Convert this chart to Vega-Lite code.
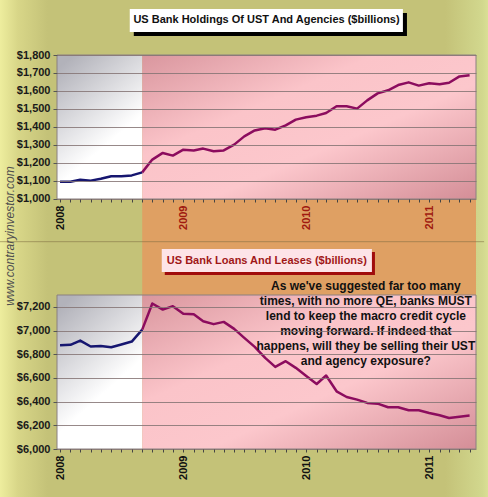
{
  "$schema": "https://vega.github.io/schema/vega-lite/v6.json",
  "width": 419,
  "height": 394,
  "autosize": {"type": "none"},
  "padding": {"left": 57, "top": 55, "right": 12, "bottom": 48},
  "background": "#c6c47a",
  "datasets": {
    "banks": [
      {"date": "2008-01-01", "holdings": 1096, "loans": 6876},
      {"date": "2008-02-01", "holdings": 1096, "loans": 6879},
      {"date": "2008-03-01", "holdings": 1107, "loans": 6915},
      {"date": "2008-04-01", "holdings": 1102, "loans": 6865},
      {"date": "2008-05-01", "holdings": 1113, "loans": 6870},
      {"date": "2008-06-01", "holdings": 1126, "loans": 6859},
      {"date": "2008-07-01", "holdings": 1126, "loans": 6882},
      {"date": "2008-08-01", "holdings": 1131, "loans": 6907},
      {"date": "2008-09-01", "holdings": 1148, "loans": 7008},
      {"date": "2008-10-01", "holdings": 1219, "loans": 7228},
      {"date": "2008-11-01", "holdings": 1256, "loans": 7177},
      {"date": "2008-12-01", "holdings": 1241, "loans": 7206},
      {"date": "2009-01-01", "holdings": 1274, "loans": 7141},
      {"date": "2009-02-01", "holdings": 1270, "loans": 7138},
      {"date": "2009-03-01", "holdings": 1280, "loans": 7079},
      {"date": "2009-04-01", "holdings": 1265, "loans": 7054},
      {"date": "2009-05-01", "holdings": 1270, "loans": 7073},
      {"date": "2009-06-01", "holdings": 1302, "loans": 7014},
      {"date": "2009-07-01", "holdings": 1348, "loans": 6938},
      {"date": "2009-08-01", "holdings": 1381, "loans": 6862},
      {"date": "2009-09-01", "holdings": 1393, "loans": 6769},
      {"date": "2009-10-01", "holdings": 1385, "loans": 6693},
      {"date": "2009-11-01", "holdings": 1409, "loans": 6741},
      {"date": "2009-12-01", "holdings": 1441, "loans": 6685},
      {"date": "2010-01-01", "holdings": 1454, "loans": 6617},
      {"date": "2010-02-01", "holdings": 1463, "loans": 6549},
      {"date": "2010-03-01", "holdings": 1478, "loans": 6620},
      {"date": "2010-04-01", "holdings": 1515, "loans": 6487},
      {"date": "2010-05-01", "holdings": 1515, "loans": 6439},
      {"date": "2010-06-01", "holdings": 1502, "loans": 6417},
      {"date": "2010-07-01", "holdings": 1548, "loans": 6389},
      {"date": "2010-08-01", "holdings": 1587, "loans": 6383},
      {"date": "2010-09-01", "holdings": 1604, "loans": 6352},
      {"date": "2010-10-01", "holdings": 1633, "loans": 6352},
      {"date": "2010-11-01", "holdings": 1648, "loans": 6327},
      {"date": "2010-12-01", "holdings": 1630, "loans": 6327},
      {"date": "2011-01-01", "holdings": 1643, "loans": 6304},
      {"date": "2011-02-01", "holdings": 1637, "loans": 6285},
      {"date": "2011-03-01", "holdings": 1646, "loans": 6262},
      {"date": "2011-04-01", "holdings": 1681, "loans": 6273},
      {"date": "2011-05-01", "holdings": 1687, "loans": 6282}
    ],
    "one": [{}]
  },
  "data": {"name": "banks", "format": {"parse": {"date": "date"}}},
  "layer": [
    {
      "layer": [
        {
          "data": {"name": "one"},
          "mark": {
            "type": "rect",
            "fill": {
              "gradient": "linear", "x1": 0, "y1": 0, "x2": 1, "y2": 0,
              "stops": [
                {"offset": 0, "color": "#f0f0a0"},
                {"offset": 0.04, "color": "#d8d688"},
                {"offset": 0.1, "color": "#c4c278"},
                {"offset": 0.9, "color": "#c4c278"},
                {"offset": 0.975, "color": "#d2d88e"},
                {"offset": 1, "color": "#e4e89c"}
              ]
            }
          },
          "encoding": {
            "x": {"datum": {"year": 2007, "month": 7, "date": 1, "utc": true}, "type": "temporal"},
            "x2": {"datum": {"year": 2011, "month": 7, "date": 15, "utc": true}},
            "y": {"datum": 2105.6},
            "y2": {"datum": -655.6}
          }
        },
        {
          "data": {"name": "one"},
          "mark": {"type": "rect", "fill": "#dfa063"},
          "encoding": {
            "x": {"datum": {"year": 2008, "month": 9, "date": 1, "utc": true}, "type": "temporal"},
            "x2": {"datum": {"year": 2011, "month": 5, "date": 20, "utc": true}},
            "y": {"datum": 466.7},
            "y2": {"datum": 1000}
          }
        },
        {
          "data": {"name": "one"},
          "mark": {"type": "rule", "color": "#7c6a40", "strokeWidth": 1, "opacity": 0.55},
          "encoding": {
            "x": {"datum": {"year": 2007, "month": 7, "date": 1, "utc": true}, "type": "temporal"},
            "x2": {"datum": {"year": 2011, "month": 6, "date": 13, "utc": true}},
            "y": {"datum": 762.8}
          }
        },
        {
          "data": {"name": "one"},
          "mark": {
            "type": "rect",
            "fill": {
              "gradient": "linear", "x1": 0.2, "y1": 0, "x2": 0.7, "y2": 1,
              "stops": [
                {"offset": 0, "color": "#b2b2ba"},
                {"offset": 0.65, "color": "#ffffff"},
                {"offset": 1, "color": "#ffffff"}
              ]
            }
          },
          "encoding": {
            "x": {"datum": {"year": 2007, "month": 12, "date": 23, "utc": true}, "type": "temporal"},
            "x2": {"datum": {"year": 2008, "month": 9, "date": 1, "utc": true}},
            "y": {"datum": 1000},
            "y2": {"datum": 1800}
          }
        },
        {
          "data": {"name": "one"},
          "mark": {
            "type": "rect",
            "fill": {
              "gradient": "linear", "x1": 0, "y1": 0, "x2": 1, "y2": 1,
              "stops": [
                {"offset": 0, "color": "#d9969e"},
                {"offset": 0.35, "color": "#fbc4c9"},
                {"offset": 0.6, "color": "#fcc7cc"},
                {"offset": 1, "color": "#d48e97"}
              ]
            }
          },
          "encoding": {
            "x": {"datum": {"year": 2008, "month": 9, "date": 1, "utc": true}, "type": "temporal"},
            "x2": {"datum": {"year": 2011, "month": 5, "date": 20, "utc": true}},
            "y": {"datum": 1000},
            "y2": {"datum": 1800}
          }
        },
        {
          "data": {"name": "one"},
          "mark": {"type": "rect", "fill": "transparent", "stroke": "#8a8080", "strokeWidth": 1},
          "encoding": {
            "y": {"datum": 1000},
            "y2": {"datum": 1800}
          }
        },
        {
          "transform": [{"filter": {"field": "date", "lte": {"year": 2008, "month": 9, "date": 1, "utc": true}}}],
          "mark": {"type": "line", "color": "#161670", "strokeWidth": 2.5, "strokeJoin": "round"},
          "encoding": {
            "x": {
              "field": "date", "type": "temporal", "title": null,
              "scale": {"type": "utc", "domain": [{"year": 2007, "month": 12, "date": 23, "utc": true}, {"year": 2011, "month": 5, "date": 20, "utc": true}]},
              "axis": {
                "orient": "bottom", "offset": -250, "domain": false, "grid": false,
                "tickCount": {"interval": "month", "step": 1}, "tickSize": 3, "tickColor": "#444444",
                "labelExpr": "utcmonth(datum.value) == 0 ? utcFormat(datum.value, '%Y') : ''",
                "labelAngle": 270, "labelFont": "Liberation Sans", "labelFontWeight": "bold", "labelFontSize": 11,
                "labelColor": {"condition": {"test": "utcyear(datum.value) == 2008", "value": "#111111"}, "value": "#a01a10"},
                "labelPadding": 3, "labelOverlap": false, "labelFlush": false, "zindex": 1
              }
            },
            "y": {
              "field": "holdings", "type": "quantitative", "title": null,
              "scale": {"domain": [-388.9, 1800], "nice": false, "zero": false},
              "axis": {
                "orient": "left", "values": [1000, 1100, 1200, 1300, 1400, 1500, 1600, 1700, 1800],
                "format": "$,.0f", "grid": true, "gridColor": "#857474", "gridOpacity": 0.85,
                "domain": false, "tickSize": 4, "tickColor": "#555555",
                "labelFont": "Liberation Sans", "labelFontWeight": "bold", "labelFontSize": 11,
                "labelColor": "#1a1a1a", "labelPadding": 3, "zindex": 1
              }
            }
          }
        },
        {
          "transform": [{"filter": {"field": "date", "gte": {"year": 2008, "month": 9, "date": 1, "utc": true}}}],
          "mark": {"type": "line", "color": "#8c0c5e", "strokeWidth": 2.5, "strokeJoin": "round"},
          "encoding": {
            "x": {"field": "date", "type": "temporal"},
            "y": {"field": "holdings", "type": "quantitative"}
          }
        },
        {
          "data": {"name": "one"},
          "mark": {"type": "rect", "fill": "#000000"},
          "encoding": {
            "x": {"datum": {"year": 2008, "month": 8, "date": 7, "utc": true}, "type": "temporal"},
            "x2": {"datum": {"year": 2010, "month": 10, "date": 27, "utc": true}},
            "y": {"datum": 1905.6},
            "y2": {"datum": 2033.3}
          }
        },
        {
          "data": {"name": "one"},
          "mark": {"type": "rect", "fill": "#ffffff"},
          "encoding": {
            "x": {"datum": {"year": 2008, "month": 7, "date": 26, "utc": true}, "type": "temporal"},
            "x2": {"datum": {"year": 2010, "month": 10, "date": 15, "utc": true}},
            "y": {"datum": 1927.8},
            "y2": {"datum": 2055.6}
          }
        },
        {
          "data": {"name": "one"},
          "mark": {"type": "text", "font": "Liberation Sans", "fontWeight": "bold", "fontSize": 11, "color": "#111111", "align": "center", "baseline": "middle"},
          "encoding": {
            "x": {"datum": {"year": 2009, "month": 9, "date": 5, "utc": true}, "type": "temporal"},
            "y": {"datum": 1991.7},
            "text": {"value": "US Bank Holdings Of UST And Agencies ($billions)"}
          }
        },
        {
          "data": {"name": "one"},
          "mark": {"type": "text", "font": "Liberation Sans", "fontStyle": "italic", "fontSize": 12, "color": "#4f4f4f", "align": "center", "baseline": "middle", "angle": 270},
          "encoding": {
            "x": {"datum": {"year": 2007, "month": 8, "date": 4, "utc": true}, "type": "temporal"},
            "y": {"datum": 794.4},
            "text": {"value": "www.contraryinvestor.com"}
          }
        }
      ]
    },
    {
      "layer": [
        {
          "data": {"name": "one"},
          "mark": {
            "type": "rect",
            "fill": {
              "gradient": "linear", "x1": 0.2, "y1": 0, "x2": 0.7, "y2": 1,
              "stops": [
                {"offset": 0, "color": "#b2b2ba"},
                {"offset": 0.65, "color": "#ffffff"},
                {"offset": 1, "color": "#ffffff"}
              ]
            }
          },
          "encoding": {
            "x": {"datum": {"year": 2007, "month": 12, "date": 23, "utc": true}, "type": "temporal"},
            "x2": {"datum": {"year": 2008, "month": 9, "date": 1, "utc": true}},
            "y": {"datum": 6000},
            "y2": {"datum": 7300}
          }
        },
        {
          "data": {"name": "one"},
          "mark": {
            "type": "rect",
            "fill": {
              "gradient": "linear", "x1": 0, "y1": 0, "x2": 1, "y2": 1,
              "stops": [
                {"offset": 0, "color": "#d9969e"},
                {"offset": 0.35, "color": "#fbc4c9"},
                {"offset": 0.6, "color": "#fcc7cc"},
                {"offset": 1, "color": "#d48e97"}
              ]
            }
          },
          "encoding": {
            "x": {"datum": {"year": 2008, "month": 9, "date": 1, "utc": true}, "type": "temporal"},
            "x2": {"datum": {"year": 2011, "month": 5, "date": 20, "utc": true}},
            "y": {"datum": 6000},
            "y2": {"datum": 7300}
          }
        },
        {
          "data": {"name": "one"},
          "mark": {"type": "rect", "fill": "transparent", "stroke": "#8a8080", "strokeWidth": 1},
          "encoding": {
            "y": {"datum": 6000},
            "y2": {"datum": 7300}
          }
        },
        {
          "transform": [{"filter": {"field": "date", "lte": {"year": 2008, "month": 9, "date": 1, "utc": true}}}],
          "mark": {"type": "line", "color": "#161670", "strokeWidth": 2.5, "strokeJoin": "round"},
          "encoding": {
            "x": {
              "field": "date", "type": "temporal", "title": null,
              "axis": {
                "orient": "bottom", "offset": 0, "domain": false, "grid": false,
                "tickCount": {"interval": "month", "step": 1}, "tickSize": 3, "tickColor": "#444444",
                "labelExpr": "utcmonth(datum.value) == 0 ? utcFormat(datum.value, '%Y') : ''",
                "labelAngle": 270, "labelFont": "Liberation Sans", "labelFontWeight": "bold", "labelFontSize": 11,
                "labelColor": "#111111", "labelPadding": 3, "labelOverlap": false, "labelFlush": false, "zindex": 1
              }
            },
            "y": {
              "field": "loans", "type": "quantitative", "title": null,
              "scale": {"domain": [6000, 9326], "nice": false, "zero": false},
              "axis": {
                "orient": "left", "values": [6000, 6200, 6400, 6600, 6800, 7000, 7200],
                "format": "$,.0f", "grid": true, "gridColor": "#857474", "gridOpacity": 0.85,
                "domain": false, "tickSize": 4, "tickColor": "#555555",
                "labelFont": "Liberation Sans", "labelFontWeight": "bold", "labelFontSize": 11,
                "labelColor": "#1a1a1a", "labelPadding": 3, "zindex": 1
              }
            }
          }
        },
        {
          "transform": [{"filter": {"field": "date", "gte": {"year": 2008, "month": 9, "date": 1, "utc": true}}}],
          "mark": {"type": "line", "color": "#8c0c5e", "strokeWidth": 2.5, "strokeJoin": "round"},
          "encoding": {
            "x": {"field": "date", "type": "temporal"},
            "y": {"field": "loans", "type": "quantitative"}
          }
        },
        {
          "data": {"name": "one"},
          "mark": {"type": "rect", "fill": "#a00c0c"},
          "encoding": {
            "x": {"datum": {"year": 2008, "month": 11, "date": 7, "utc": true}, "type": "temporal"},
            "x2": {"datum": {"year": 2010, "month": 7, "date": 24, "utc": true}},
            "y": {"datum": 7468.8},
            "y2": {"datum": 7663}
          }
        },
        {
          "data": {"name": "one"},
          "mark": {"type": "rect", "fill": "#fde4e8"},
          "encoding": {
            "x": {"datum": {"year": 2008, "month": 10, "date": 29, "utc": true}, "type": "temporal"},
            "x2": {"datum": {"year": 2010, "month": 7, "date": 15, "utc": true}},
            "y": {"datum": 7494.2},
            "y2": {"datum": 7688.3}
          }
        },
        {
          "data": {"name": "one"},
          "mark": {"type": "text", "font": "Liberation Sans", "fontWeight": "bold", "fontSize": 11, "color": "#a01818", "align": "center", "baseline": "middle"},
          "encoding": {
            "x": {"datum": {"year": 2009, "month": 9, "date": 6, "utc": true}, "type": "temporal"},
            "y": {"datum": 7591.2},
            "text": {"value": "US Bank Loans And Leases ($billions)"}
          }
        },
        {
          "data": {"name": "one"},
          "mark": {"type": "text", "font": "Liberation Sans", "fontWeight": "bold", "fontSize": 12, "lineHeight": 15.1, "color": "#111111", "align": "center", "baseline": "middle"},
          "encoding": {
            "x": {"datum": {"year": 2010, "month": 6, "date": 27, "utc": true}, "type": "temporal"},
            "y": {"datum": 7378.5},
            "text": {"value": ["As we've suggested far too many", "times, with no more QE, banks MUST", "lend to keep the macro credit cycle", "moving forward.  If indeed that", "happens, will they be selling their UST", "and agency exposure?"]}
          }
        }
      ]
    }
  ],
  "resolve": {"scale": {"y": "independent"}, "axis": {"x": "independent", "y": "independent"}},
  "config": {"view": {"stroke": null}}
}
